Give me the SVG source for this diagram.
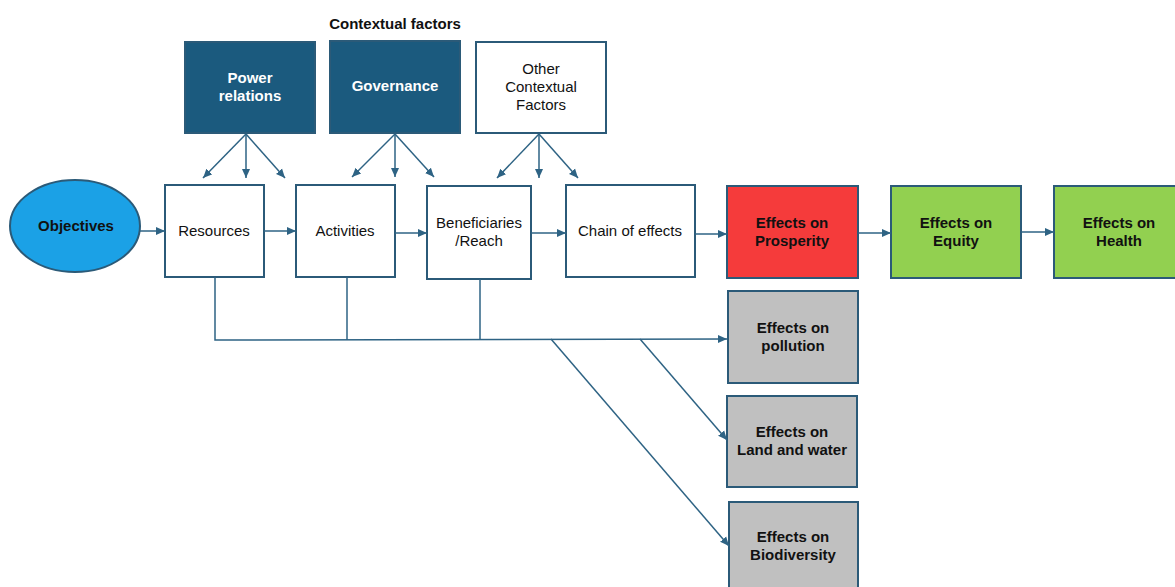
<svg xmlns="http://www.w3.org/2000/svg" width="1175" height="587" viewBox="0 0 1175 587">
<style>
.box{stroke:#2b5a78;stroke-width:2}
.w{fill:#ffffff}
.db{fill:#1b5a7e}
.red{fill:#f53b3b}
.grn{fill:#92d050}
.gry{fill:#c0c0c0}
.t{font-family:"Liberation Sans",Arial,sans-serif;font-size:15px;text-anchor:middle;fill:#111}
.b{font-weight:bold}
.wt{fill:#ffffff}
.c{fill:none;stroke:#2e6384;stroke-width:1.5}
</style>
<defs>
<marker id="ah" markerUnits="userSpaceOnUse" markerWidth="10" markerHeight="10" viewBox="0 0 10 10" refX="9" refY="5" orient="auto">
<path d="M0,1 L9,5 L0,9 Z" fill="#2e6384"/>
</marker>
</defs>
<rect width="1175" height="587" fill="#ffffff"/>
<text class="t b" x="395" y="29">Contextual factors</text>

<g id="objectives"><ellipse cx="75" cy="226" rx="65" ry="46" fill="#1ba1e6" stroke="#2b5a78" stroke-width="2"/><text class="t b" x="76" y="231" fill="#0d2740">Objectives</text></g>
<g id="resources"><rect class="box w" x="165" y="185" width="99" height="92"/><text class="t" x="214" y="236">Resources</text></g>
<g id="activities"><rect class="box w" x="296" y="185" width="99" height="92"/><text class="t" x="345" y="236">Activities</text></g>
<g id="beneficiaries"><rect class="box w" x="427" y="186" width="104" height="93"/><text class="t" x="479" y="228">Beneficiaries</text><text class="t" x="479" y="246">/Reach</text></g>
<g id="chain"><rect class="box w" x="566" y="185" width="129" height="92"/><text class="t" x="630" y="236">Chain of effects</text></g>
<g id="prosperity"><rect class="box red" x="727" y="186" width="131" height="92"/><text class="t b" x="792" y="228">Effects on</text><text class="t b" x="792" y="246">Prosperity</text></g>
<g id="equity"><rect class="box grn" x="891" y="186" width="130" height="92"/><text class="t b" x="956" y="228">Effects on</text><text class="t b" x="956" y="246">Equity</text></g>
<g id="health"><rect class="box grn" x="1054" y="186" width="130" height="92"/><text class="t b" x="1119" y="228">Effects on</text><text class="t b" x="1119" y="246">Health</text></g>
<g id="power"><rect class="box db" x="185" y="42" width="130" height="91"/><text class="t b wt" x="250" y="83">Power</text><text class="t b wt" x="250" y="101">relations</text></g>
<g id="governance"><rect class="box db" x="330" y="41" width="130" height="92"/><text class="t b wt" x="395" y="91">Governance</text></g>
<g id="other"><rect class="box w" x="476" y="42" width="130" height="91"/><text class="t" x="541" y="74">Other</text><text class="t" x="541" y="92">Contextual</text><text class="t" x="541" y="110">Factors</text></g>
<g id="pollution"><rect class="box gry" x="728" y="291" width="130" height="92"/><text class="t b" x="793" y="333">Effects on</text><text class="t b" x="793" y="351">pollution</text></g>
<g id="landwater"><rect class="box gry" x="727" y="396" width="130" height="91"/><text class="t b" x="792" y="437">Effects on</text><text class="t b" x="792" y="455">Land and water</text></g>
<g id="biodiversity"><rect class="box gry" x="729" y="502" width="129" height="95"/><text class="t b" x="793" y="542">Effects on</text><text class="t b" x="793" y="560">Biodiversity</text></g>

<g id="connectors">
<line class="c" x1="140" y1="231" x2="165" y2="231" marker-end="url(#ah)"/>
<line class="c" x1="264" y1="231" x2="296" y2="231" marker-end="url(#ah)"/>
<line class="c" x1="395" y1="233" x2="427" y2="233" marker-end="url(#ah)"/>
<line class="c" x1="531" y1="233" x2="566" y2="233" marker-end="url(#ah)"/>
<line class="c" x1="695" y1="234" x2="727" y2="234" marker-end="url(#ah)"/>
<line class="c" x1="858" y1="233" x2="891" y2="233" marker-end="url(#ah)"/>
<line class="c" x1="1021" y1="232" x2="1054" y2="232" marker-end="url(#ah)"/>

<line class="c" x1="246" y1="134" x2="203" y2="178" marker-end="url(#ah)"/>
<line class="c" x1="246" y1="134" x2="246" y2="178" marker-end="url(#ah)"/>
<line class="c" x1="246" y1="134" x2="285" y2="178" marker-end="url(#ah)"/>
<line class="c" x1="395" y1="134" x2="352" y2="177" marker-end="url(#ah)"/>
<line class="c" x1="395" y1="134" x2="395" y2="177" marker-end="url(#ah)"/>
<line class="c" x1="395" y1="134" x2="434" y2="177" marker-end="url(#ah)"/>
<line class="c" x1="539" y1="134" x2="497" y2="178" marker-end="url(#ah)"/>
<line class="c" x1="539" y1="134" x2="539" y2="178" marker-end="url(#ah)"/>
<line class="c" x1="539" y1="134" x2="578" y2="178" marker-end="url(#ah)"/>

<polyline class="c" points="215,277 215,340 727,339" marker-end="url(#ah)"/>
<line class="c" x1="347" y1="277" x2="347" y2="340"/>
<line class="c" x1="480" y1="279" x2="480" y2="339"/>
<line class="c" x1="551" y1="339" x2="729" y2="546" marker-end="url(#ah)"/>
<line class="c" x1="640" y1="339" x2="727" y2="440" marker-end="url(#ah)"/>
</g>
</svg>
